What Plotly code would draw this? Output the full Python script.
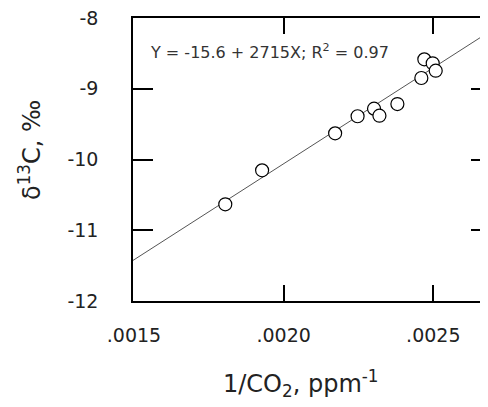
import numpy as np
import plotly.graph_objects as go

# data
inv_co2 = [0.001805, 0.001928, 0.002172, 0.002247, 0.002302, 0.002320,
           0.002380, 0.002460, 0.002470, 0.002498, 0.002508]
d13c = [-10.633, -10.153, -9.630, -9.389, -9.282, -9.381,
        -9.216, -8.848, -8.584, -8.640, -8.745]
fit_intercept = -15.49
fit_slope = 2715
x_ticks = [0.0015, 0.0020, 0.0025]
x_tick_labels = [".0015", ".0020", ".0025"]
y_ticks = [-12, -11, -10, -9, -8]
y_tick_labels = ["-12", "-11", "-10", "-9", "-8"]
x_range = [0.0014967, 0.0026827]
y_range = [-12, -8]
eq_text = "Y = -15.6 + 2715X; R<sup>2</sup> = 0.97"

FONT = "DejaVu Sans"
OFF = 8  # page body margin
W, H = 488 - OFF, 407 - OFF
L, T, B, R = 133 - OFF, 18 - OFF, 106, 0
PW, PH = W - L - R, H - T - B
PB = 301  # page y of plot bottom


def px(xp):
    return (xp - 133) / PW


def py(yp):
    return (PB - yp) / PH


line_x = np.array(x_range)
line_y = fit_intercept + fit_slope * line_x

fig = go.Figure()
fig.add_trace(go.Scatter(x=line_x, y=line_y, mode="lines",
                         line=dict(color="#555555", width=1), showlegend=False,
                         hoverinfo="skip"))
fig.add_trace(go.Scatter(x=inv_co2, y=d13c, mode="markers",
                         marker=dict(symbol="circle", size=13, color="white",
                                     line=dict(color="black", width=1.2)),
                         showlegend=False))
fig.add_trace(go.Scatter(x=[None], y=[None], yaxis="y2", showlegend=False))

fig.update_layout(
    width=W, height=H,
    margin=dict(l=L, r=R, t=T, b=B, pad=0),
    paper_bgcolor="white", plot_bgcolor="white",
    font=dict(family=FONT, color="black"),
    xaxis=dict(range=x_range, tickvals=x_ticks, ticktext=x_tick_labels,
               showgrid=False, zeroline=False, showline=True, linecolor="black",
               linewidth=1.5, mirror="ticks", ticks="inside", ticklen=16,
               tickwidth=1.5, tickcolor="black", ticklabelstandoff=16,
               ticklabeloverflow="allow",
               tickfont=dict(size=19, family=FONT, color="#222222")),
    yaxis=dict(range=y_range, tickvals=y_ticks, ticktext=y_tick_labels,
               showgrid=False, zeroline=False, showline=True, linecolor="black",
               linewidth=1.5, mirror=False, ticks="inside", ticklen=20,
               tickwidth=1.5, tickcolor="black", ticklabelstandoff=29,
               ticklabeloverflow="allow",
               tickfont=dict(size=19, family=FONT, color="#222222")),
    yaxis2=dict(range=y_range, tickvals=y_ticks, overlaying="y", side="right",
                showgrid=False, zeroline=False, showline=False,
                ticks="inside", ticklen=17, tickwidth=1.5, tickcolor="black",
                showticklabels=False),
    annotations=[
        dict(text=eq_text, xref="paper", yref="paper",
             x=px(148), y=py(52),
             xanchor="left", yanchor="middle", showarrow=False,
             font=dict(size=16, family=FONT, color="#333333")),
        dict(text="1/CO<sub>2</sub>, ppm<sup>-1</sup>", xref="paper", yref="paper",
             x=px(301), y=py(383),
             xanchor="center", yanchor="middle", showarrow=False,
             font=dict(size=24, family=FONT, color="#222222")),
        dict(text="δ<sup>13</sup>C, ‰", xref="paper", yref="paper",
             x=px(30), y=py(150),
             xanchor="center", yanchor="middle", showarrow=False, textangle=-90,
             font=dict(size=24, family=FONT, color="#222222")),
    ],
)

fig.write_html("out.html")
